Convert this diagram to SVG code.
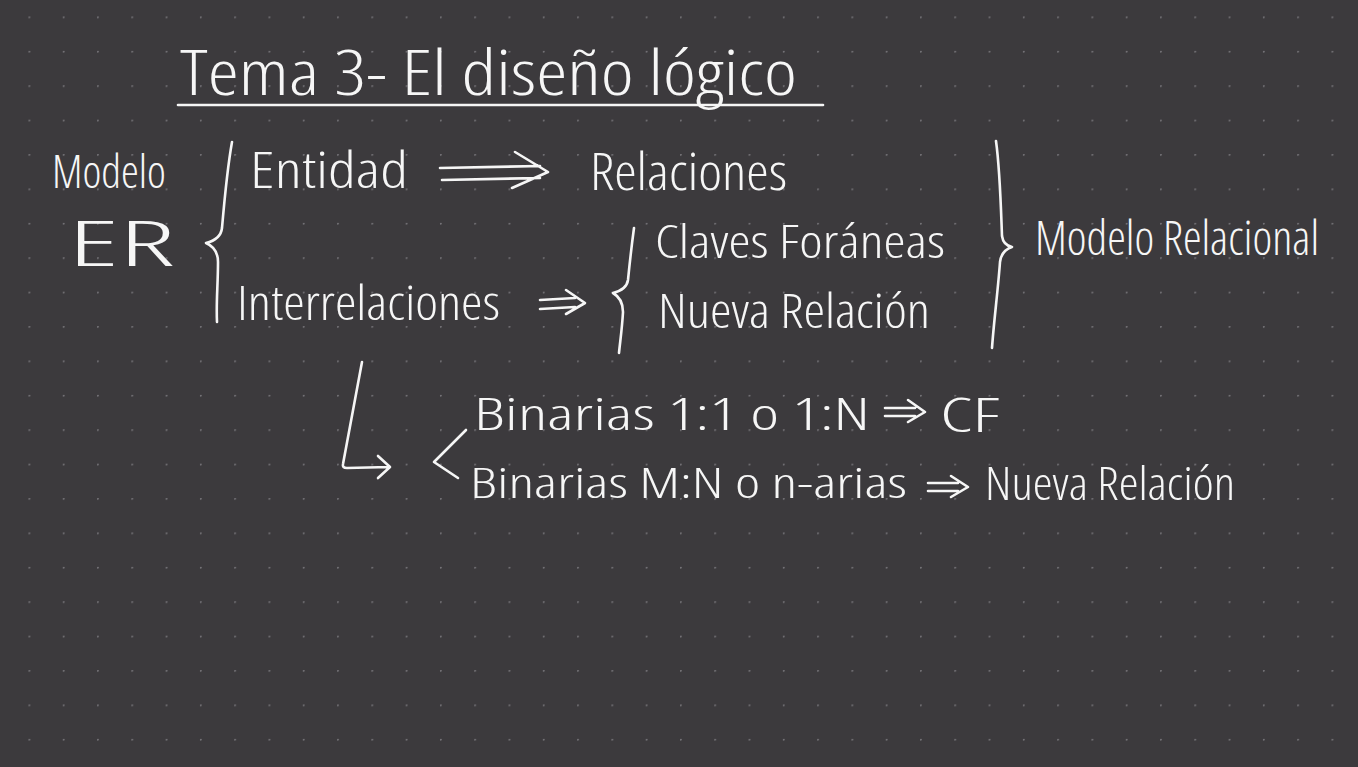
<svg xmlns="http://www.w3.org/2000/svg" width="1358" height="767" viewBox="0 0 1358 767">
<defs>
<pattern id="dots" x="29" y="17" width="34.29" height="34.4" patternUnits="userSpaceOnUse">
<circle cx="0.5" cy="0.5" r="1.3" fill="#767479"/>
</pattern>
<style>
.t{font-family:"Open Sans","Liberation Sans",sans-serif;font-weight:300;font-stretch:75%;fill:#f6f6f6}
.s{fill:none;stroke:#f6f6f6;stroke-width:2.6;stroke-linecap:round;stroke-linejoin:round}
</style>
</defs>
<rect width="1358" height="767" fill="#3c3a3d"/>
<rect width="1358" height="767" fill="url(#dots)" transform="translate(-0.5,-0.5)"/>

<g id="title"><text class="t" x="180" y="95" font-size="62" textLength="617" lengthAdjust="spacingAndGlyphs">Tema 3- El diseño lógico</text></g>
<g id="modelo-er">
<text class="t" x="52" y="188" font-size="46" textLength="114" lengthAdjust="spacingAndGlyphs">Modelo</text>
<text class="t" x="68" y="266" font-size="62" textLength="107" lengthAdjust="spacingAndGlyphs">ER</text>
</g>
<g id="entidad"><text class="t" x="250" y="188" font-size="50" textLength="158" lengthAdjust="spacingAndGlyphs">Entidad</text></g>
<g id="relaciones"><text class="t" x="590" y="190" font-size="52" textLength="197" lengthAdjust="spacingAndGlyphs">Relaciones</text></g>
<g id="interrelaciones"><text class="t" x="237" y="320" font-size="48" textLength="263" lengthAdjust="spacingAndGlyphs">Interrelaciones</text></g>
<g id="claves"><text class="t" x="655" y="258" font-size="46" textLength="290" lengthAdjust="spacingAndGlyphs">Claves Foráneas</text></g>
<g id="nueva-relacion"><text class="t" x="658" y="328" font-size="48" textLength="272" lengthAdjust="spacingAndGlyphs">Nueva Relación</text></g>
<g id="modelo-relacional"><text class="t" x="1035" y="255" font-size="48" textLength="284" lengthAdjust="spacingAndGlyphs">Modelo Relacional</text></g>
<g id="binarias-1n">
<text class="t" x="474" y="430" font-size="44" textLength="396" lengthAdjust="spacingAndGlyphs">Binarias 1:1 o 1:N</text>
<text class="t" x="940" y="432" font-size="48" textLength="60" lengthAdjust="spacingAndGlyphs">CF</text>
</g>
<g id="binarias-mn">
<text class="t" x="470" y="498" font-size="42" textLength="437" lengthAdjust="spacingAndGlyphs">Binarias M:N o n-arias</text>
<text class="t" x="985" y="500" font-size="46" textLength="250" lengthAdjust="spacingAndGlyphs">Nueva Relación</text>
</g>

<g id="connectors">
<path class="s" d="M178,105 L823,105"/>
<path class="s" d="M232,142 C227,170 224,205 222,228 C221,237 214,241 206,243 C213,246 218,251 218,262 C218,285 216,302 217,322"/>
<path class="s" d="M440,168 L540,166 M442,180 L540,178 M515,152 L548,172 L512,188"/>
<path class="s" d="M540,300 L575,298 M540,309 L575,307 M566,290 L585,303 L566,314"/>
<path class="s" d="M634,228 C631,250 629,270 628,280 C627,287 621,291 613,293 C620,297 623,303 623,312 C622,330 620,342 619,353"/>
<path class="s" d="M996,141 C1000,170 1001,210 1002,236 C1003,243 1007,246 1012,247 C1006,249 1001,254 1000,262 C998,290 994,320 992,348"/>
<path class="s" d="M362,362 L343,464 Q342,468 347,468 L389,467 M378,456 L390,467 L378,478"/>
<path class="s" d="M466,430 L434,462 L458,478"/>
<path class="s" d="M885,408 L915,408 M885,416 L915,416 M908,400 L925,412 L908,422"/>
<path class="s" d="M928,483 L958,483 M928,491 L958,491 M951,476 L968,487 L951,497"/>
</g>
</svg>
